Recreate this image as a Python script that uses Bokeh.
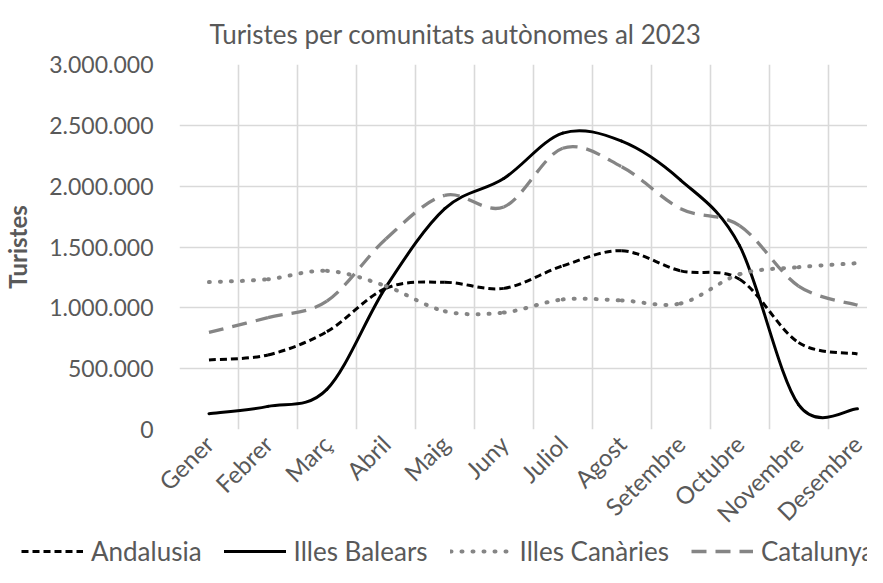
import numpy as np
from bokeh.plotting import figure
from bokeh.layouts import column
from bokeh.models import FixedTicker, Legend, LegendItem, Range1d, ColumnDataSource
from bokeh.embed import file_html
from bokeh.resources import INLINE

months = ["Gener", "Febrer", "Març", "Abril", "Maig", "Juny", "Juliol",
          "Agost", "Setembre", "Octubre", "Novembre", "Desembre"]
andalusia = [572000, 613000, 804000, 1160000, 1210000, 1160000, 1345000,
             1469000, 1304000, 1235000, 715000, 621000]
balears = [130000, 190000, 330000, 1170000, 1815000, 2063000, 2436000,
           2370000, 2050000, 1511000, 205000, 170000]
canaries = [1212000, 1235000, 1304000, 1179000, 972000, 961000, 1069000,
            1061000, 1036000, 1276000, 1334000, 1367000]
catalunya = [798000, 920000, 1055000, 1566000, 1925000, 1829000, 2312000,
             2160000, 1815000, 1676000, 1179000, 1022000]
y_ticks = [0, 500000, 1000000, 1500000, 2000000, 2500000, 3000000]
y_tick_labels = ["0", "500.000", "1.000.000", "1.500.000", "2.000.000",
                 "2.500.000", "3.000.000"]
title_text = "Turistes per comunitats autònomes al 2023"
y_title = "Turistes"

FONT = "Lato"
GRAY_TXT = "#595959"


def smooth_segments(vals):
    """Bezier segments through the data points (Catmull-Rom style control points)."""
    x = np.arange(len(vals), dtype=float)
    y = np.asarray(vals, dtype=float)
    n = len(y)
    xp = np.concatenate([[x[0]], x, [x[-1]]])
    yp = np.concatenate([[y[0]], y, [y[-1]]])
    t = 1.0 / 6.0
    x0, y0, x1, y1 = x[:-1], y[:-1], x[1:], y[1:]
    cx0 = x0 + (xp[2:n + 1] - xp[0:n - 1]) * t
    cy0 = y0 + (yp[2:n + 1] - yp[0:n - 1]) * t
    cx1 = x1 - (xp[3:n + 2] - xp[1:n]) * t
    cy1 = y1 - (yp[3:n + 2] - yp[1:n]) * t
    return ColumnDataSource(dict(x0=x0, y0=y0, x1=x1, y1=y1,
                                 cx0=cx0, cy0=cy0, cx1=cx1, cy1=cy1))


p = figure(width=867, height=540, output_backend="svg", toolbar_location=None,
           x_range=Range1d(-0.5, 11.17), y_range=Range1d(0, 3000000),
           min_border_left=174, min_border_right=0, min_border_top=10,
           min_border_bottom=10)

p.title.text = title_text
p.title.align = "left"
p.title.offset = 30
p.title.text_font = FONT
p.title.text_font_style = "normal"
p.title.text_font_size = "26px"
p.title.text_color = GRAY_TXT
p.title.standoff = 30

p.outline_line_color = None
p.background_fill_color = "white"

p.xgrid.ticker = FixedTicker(ticks=[i - 0.5 for i in range(13)])
p.ygrid.ticker = FixedTicker(ticks=y_ticks)
for g in (p.xgrid, p.ygrid):
    g.grid_line_color = "#d9d9d9"
    g.grid_line_width = 1.6

p.xaxis.ticker = FixedTicker(ticks=list(range(len(months))))
p.xaxis.major_label_overrides = {i: m for i, m in enumerate(months)}
p.xaxis.major_label_orientation = np.pi / 4
p.yaxis.ticker = FixedTicker(ticks=y_ticks)
p.yaxis.major_label_overrides = {v: l for v, l in zip(y_ticks, y_tick_labels)}
p.yaxis.axis_label = y_title
p.yaxis.axis_label_text_font_style = "bold"
p.yaxis.axis_label_text_font_size = "24px"
p.yaxis.axis_label_text_color = GRAY_TXT
p.yaxis.axis_label_text_font = FONT
p.yaxis.axis_label_standoff = 14
for ax in (p.xaxis, p.yaxis):
    ax.axis_line_color = None
    ax.major_tick_line_color = None
    ax.minor_tick_line_color = None
    ax.major_label_text_font = FONT
    ax.major_label_text_color = GRAY_TXT
p.yaxis.major_label_text_font_size = "23px"
p.xaxis.major_label_text_font_size = "24px"
p.yaxis.major_label_standoff = 20
p.xaxis.major_label_standoff = 4

styles = [
    ("Andalusia", andalusia, "#000000", "7 4", "butt", 3),
    ("Illes Balears", balears, "#000000", "solid", "round", 3),
    ("Illes Canàries", canaries, "#858585", "1 10", "round", 4),
    ("Catalunya", catalunya, "#858585", "15 9", "butt", 3.3),
]

# legend strip as a separate small figure below the chart
lg = figure(width=867, height=27, output_backend="svg", toolbar_location=None,
            x_range=Range1d(0, 1), y_range=Range1d(0, 1),
            x_axis_type=None, y_axis_type=None,
            min_border_left=0, min_border_right=0, min_border_top=0,
            min_border_bottom=0)
lg.grid.visible = False
lg.outline_line_color = None

legend_x = 21
if "frame_align" in lg.properties():
    lg.frame_align = False
    p.frame_align = False
else:
    legend_x = 0

items = []
for name, vals, col, dash, cap, w in styles:
    src = smooth_segments(vals)
    p.bezier(x0="x0", y0="y0", x1="x1", y1="y1", cx0="cx0", cy0="cy0",
             cx1="cx1", cy1="cy1", source=src, line_color=col, line_width=w,
             line_dash=dash, line_cap=cap)
    dummy = lg.line(x=[5, 6], y=[5, 6], line_color=col, line_width=w,
                    line_dash=dash, line_cap=cap)
    items.append(LegendItem(label=name, renderers=[dummy]))

legend = Legend(items=items, orientation="horizontal", location=(legend_x, 0),
                label_text_font=FONT, label_text_font_size="26px",
                label_text_color=GRAY_TXT, glyph_width=62, glyph_height=20,
                label_standoff=8, spacing=22, padding=0, margin=0,
                border_line_color=None, background_fill_alpha=0)
lg.add_layout(legend, "center")

layout = column(p, lg, spacing=0)
open("out.html", "w").write(file_html(layout, INLINE))
